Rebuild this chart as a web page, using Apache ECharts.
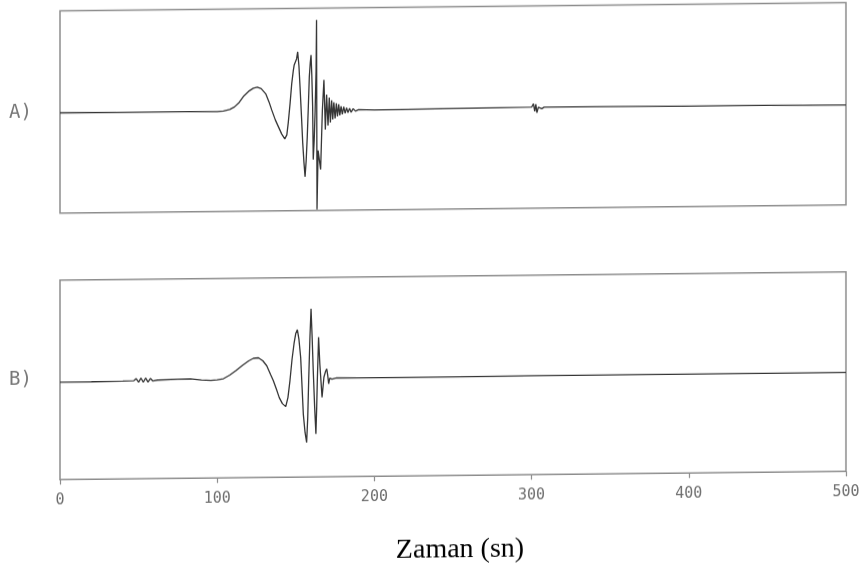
<!DOCTYPE html>
<html>
<head>
<meta charset="utf-8">
<script src="https://cdn.jsdelivr.net/npm/echarts@6/dist/echarts.min.js"></script>
<style>
  html, body { margin: 0; padding: 0; background: #ffffff; }
  /* the plotter sheet sits slightly askew: right side a few pixels higher */
  #chart { width: 866px; height: 579px; transform: skewY(-0.6deg); transform-origin: 0 0; }
</style>
</head>
<body>
<div id="chart"></div>
<script>
// Trace A: time (s) and amplitude
const timeA = [0, 40, 80, 100, 104, 108, 111, 114, 117, 120, 123, 125.5, 128, 131, 133, 134.7, 137, 139, 141, 143,
  144.3, 145.2, 146.4, 147.4, 148.4, 149, 149.8, 150.5, 151.2, 152, 152.7, 153.6, 154.4, 155.2, 155.9, 156.6, 157.3,
  158, 158.6, 159.2, 159.7, 160.2, 160.7, 161.1, 161.7, 162.3, 162.9, 163.2, 163.5, 164.2, 165.8, 166.9, 167.9, 168.8,
  169.6, 170.5, 171.3, 172, 172.8, 173.5, 174.2, 175, 175.8, 176.5, 177.3, 178, 178.8, 179.6, 180.5, 181.4, 182.3,
  183.2, 184.2, 185.2, 186.5, 188, 190, 200, 240, 280, 300, 301.2, 302, 302.7, 303.4, 304.3, 305.5, 306.5, 308, 340,
  400, 450, 500];
const ampA = [0.4, 0.3, 0.2, 0, 0.5, 2, 4.5, 9, 15.5, 20, 23, 24, 22.5, 17, 9, 1, -9, -16, -23, -28,
  -24, -12, 8, 27, 40, 46, 44, 52, 59, 45, 24, -5, -32, -52, -66, -50, -26,
  5, 34, 48, 55.7, 35, 5, -49, -30, 0, 40, 90.7, -99, -40, -59, 0, 30.6, -19,
  16, -15, 13, -12, 10, -9, 8, -8, 7, -6, 6, -5, 4, -4, 3.5, -3, 2.5,
  -2.5, 2, -2, 1.5, -1, 0.5, 0, 0.5, 1, 1.2, 4.5, -3, 4, -4.5, 1, 3, -0.5, 1, 1,
  0.5, 0.5, 0];

// Trace B: time (s) and amplitude
const timeB = [0, 20, 40, 47, 48.5, 50, 51.5, 53, 54.5, 56, 57.5, 59, 62, 75, 83, 90, 96, 100, 104, 108, 112, 116,
  120, 123, 126.2, 129, 131.5, 134, 135.7, 138, 139.5, 141.5, 143.6, 145, 146.3, 147.6, 148.9, 150, 151, 152, 153.1,
  154, 154.8, 155.9, 156.9, 157.6, 158.2, 159, 159.7, 160.4, 161.1, 162, 162.8, 163.3, 163.7, 164.5, 165.3, 166.7,
  167.9, 169, 169.7, 170.3, 170.9, 171.6, 172.2, 173, 174, 176, 190, 250, 300, 400, 500];
const ampB = [-2.4, -2.2, -1.8, -1.5, 0.5, -3, 1, -3.2, 1, -3, 0.5, -2, -1.2, -0.6, -0.3, -1.5, -2, -1.5, -0.5, 3, 7.5, 12.5,
  17, 19.5, 20, 17, 12, 3, -3, -13, -20, -26, -29, -20, -3, 18, 34, 44, 47.6, 38, 20,
  -10, -37, -55, -65, -40, -3, 40, 68.4, 40, 6.7, -30, -56.6, -30, -3, 40, 13, -20,
  0, 6, 8.3, 2, -6.7, -1, 0.5, -2, -0.5, -0.8, -1, -1, -0.9, -0.9, -0.9];

// Time axis ticks
const timeTicks = [0, 100, 200, 300, 400, 500];
const panelLabels = ['A)', 'B)'];
const axisTitle = 'Zaman (sn)';

const pairs = (t, a) => t.map((v, i) => [v, a[i]]);

const boxColor = '#8d8d8d';
const traceColor = '#353535';
const plotterFont = '"DejaVu Sans Mono", monospace';

const chart = echarts.init(document.getElementById('chart'), null, { renderer: 'canvas' });

chart.setOption({
  animation: false,
  backgroundColor: '#ffffff',
  grid: [
    { left: 60, top: 11.5, width: 786, height: 202.3, show: true, borderColor: boxColor, borderWidth: 1.5, backgroundColor: 'transparent' },
    { left: 60, top: 280.8, width: 786, height: 199.5, show: true, borderColor: boxColor, borderWidth: 1.5, backgroundColor: 'transparent' }
  ],
  xAxis: [
    { gridIndex: 0, type: 'value', min: timeTicks[0], max: timeTicks[timeTicks.length - 1], interval: 100,
      axisLine: { show: false, onZero: false }, axisTick: { show: false }, axisLabel: { show: false }, splitLine: { show: false } },
    { gridIndex: 1, type: 'value', position: 'bottom', min: timeTicks[0], max: timeTicks[timeTicks.length - 1], interval: 100,
      axisLine: { show: false, onZero: false },
      axisTick: { show: true, inside: false, length: 5, lineStyle: { color: boxColor, width: 1.2 } },
      axisLabel: { show: true, margin: 13, color: '#6e6e6e', fontSize: 15, fontFamily: plotterFont,
        formatter: v => timeTicks.includes(v) ? String(v) : '' },
      splitLine: { show: false } }
  ],
  yAxis: [
    { gridIndex: 0, type: 'value', min: -100, max: 102.5, show: false, splitLine: { show: false } },
    { gridIndex: 1, type: 'value', min: -99.5, max: 99.5, show: false, splitLine: { show: false } }
  ],
  series: [
    { type: 'line', xAxisIndex: 0, yAxisIndex: 0, data: pairs(timeA, ampA), showSymbol: false, sampling: null,
      lineStyle: { color: traceColor, width: 1.3 }, clip: true },
    { type: 'line', xAxisIndex: 1, yAxisIndex: 1, data: pairs(timeB, ampB), showSymbol: false, sampling: null,
      lineStyle: { color: traceColor, width: 1.3 }, clip: true }
  ],
  graphic: [
    { type: 'text', x: 9, y: 113.5, style: { text: panelLabels[0], fontFamily: plotterFont, fontSize: 19,
      fill: '#777777', textVerticalAlign: 'middle' } },
    { type: 'text', x: 9, y: 380.5, style: { text: panelLabels[1], fontFamily: plotterFont, fontSize: 19,
      fill: '#777777', textVerticalAlign: 'middle' } },
    { type: 'text', x: 460, y: 555, style: { text: axisTitle, fontFamily: '"Liberation Serif", serif', fontSize: 28,
      fill: '#000000', textAlign: 'center', textVerticalAlign: 'middle' } }
  ]
});
</script>
</body>
</html>
